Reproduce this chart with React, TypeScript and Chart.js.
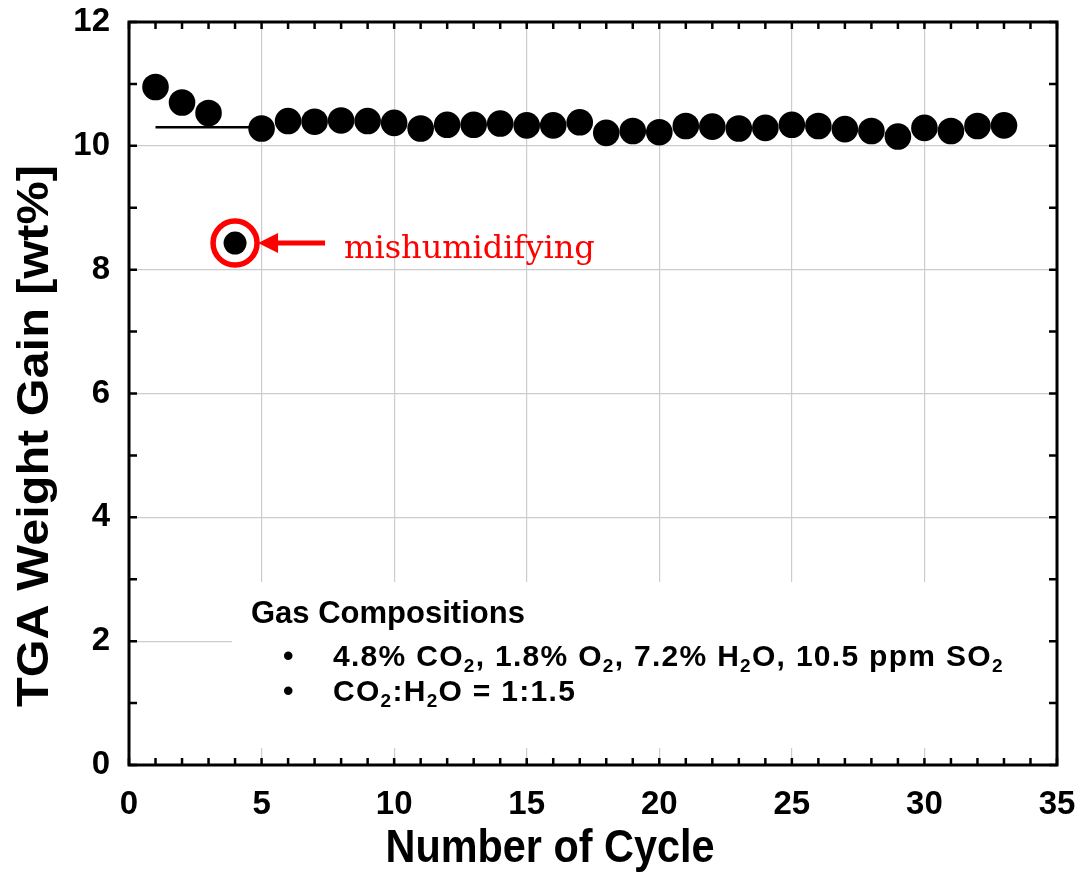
import React, { useEffect, useRef } from "react";
import { Chart, registerables } from "chart.js";

Chart.register(...registerables);

// ---- data ----
const cycles = [
  1, 2, 3, 4, 5, 6, 7, 8, 9, 10, 11, 12, 13, 14, 15, 16, 17, 18, 19, 20, 21,
  22, 23, 24, 25, 26, 27, 28, 29, 30, 31, 32, 33,
];
const weightGain = [
  10.95, 10.7, 10.53, 8.43, 10.28, 10.4, 10.39, 10.41, 10.4, 10.37, 10.28,
  10.34, 10.34, 10.36, 10.33, 10.33, 10.38, 10.21, 10.24, 10.22, 10.32, 10.31,
  10.28, 10.29, 10.34, 10.32, 10.27, 10.24, 10.15, 10.29, 10.24, 10.32, 10.33,
];
const refLineX = [1, 5];
const refLineY = [10.3, 10.3];
const outlierCycle = 4;
const outlierLabel = "mishumidifying";

const xTitle = "Number of Cycle";
const yTitle = "TGA Weight Gain [wt%]";
const legendTitle = "Gas Compositions";
// [text, isSubscript]
const legendLine1: [string, boolean][] = [
  ["4.8% CO", false], ["2", true], [", 1.8% O", false], ["2", true],
  [", 7.2% H", false], ["2", true], ["O, 10.5 ppm SO", false], ["2", true],
];
const legendLine2: [string, boolean][] = [
  ["CO", false], ["2", true], [":H", false], ["2", true], ["O = 1:1.5", false],
];
const legendItems = [legendLine1, legendLine2];

const X_MIN = 0, X_MAX = 35, X_STEP = 5;
const Y_MIN = 0, Y_MAX = 12, Y_STEP = 2;

const TICK_FONT = { family: "'Liberation Sans', Arial, sans-serif", size: 33, weight: "bold" as const };

const decor = {
  id: "decor",
  beforeDatasetsDraw(chart: any) {
    const ctx = chart.ctx;
    const a = chart.chartArea;
    ctx.save();
    ctx.fillStyle = "#ffffff";
    ctx.fillRect(232, 582, a.right - 232, 748 - 582);
    ctx.restore();
  },
  afterDatasetsDraw(chart: any) {
    const ctx = chart.ctx;
    const xs = chart.scales.x, ys = chart.scales.y;
    const idx = cycles.indexOf(outlierCycle);
    const px = xs.getPixelForValue(cycles[idx]);
    const py = ys.getPixelForValue(weightGain[idx]);
    ctx.save();
    ctx.strokeStyle = "#ff0000";
    ctx.fillStyle = "#ff0000";
    ctx.lineWidth = 5.5;
    ctx.beginPath();
    ctx.arc(px, py, 22, 0, Math.PI * 2);
    ctx.stroke();
    // arrow
    ctx.lineWidth = 5;
    ctx.beginPath();
    ctx.moveTo(px + 40, py);
    ctx.lineTo(px + 90, py);
    ctx.stroke();
    ctx.beginPath();
    ctx.moveTo(px + 23, py);
    ctx.lineTo(px + 43, py - 10);
    ctx.lineTo(px + 43, py + 10);
    ctx.closePath();
    ctx.fill();
    ctx.font = "32px 'DejaVu Serif', serif";
    ctx.textBaseline = "alphabetic";
    ctx.textAlign = "left";
    ctx.fillText(outlierLabel, px + 109, py + 15);
    ctx.restore();
  },
  afterDraw(chart: any) {
    const ctx = chart.ctx;
    const a = chart.chartArea;
    const xs = chart.scales.x, ys = chart.scales.y;
    ctx.save();
    // ticks
    ctx.strokeStyle = "#000";
    ctx.lineWidth = 2.5;
    ctx.beginPath();
    for (let v = X_MIN; v <= X_MAX; v++) {
      const x = xs.getPixelForValue(v);
      ctx.moveTo(x, a.bottom);
      ctx.lineTo(x, a.bottom - 7);
      ctx.moveTo(x, a.top);
      ctx.lineTo(x, a.top + 7);
    }
    for (let v = Y_MIN; v <= Y_MAX; v++) {
      const y = ys.getPixelForValue(v);
      ctx.moveTo(a.left, y);
      ctx.lineTo(a.left + 8, y);
      ctx.moveTo(a.right, y);
      ctx.lineTo(a.right - 8, y);
    }
    ctx.stroke();
    // frame
    ctx.lineWidth = 3;
    ctx.strokeRect(a.left, a.top, a.right - a.left, a.bottom - a.top);

    // titles
    ctx.fillStyle = "#000";
    ctx.textAlign = "center";
    ctx.textBaseline = "alphabetic";
    ctx.save();
    ctx.translate(550, 862);
    ctx.scale(0.9, 1);
    ctx.font = "bold 46px 'Liberation Sans', Arial, sans-serif";
    ctx.fillText(xTitle, 0, 0);
    ctx.restore();
    ctx.save();
    ctx.translate(48, 436);
    ctx.rotate(-Math.PI / 2);
    ctx.scale(1.08, 1);
    ctx.font = "bold 45px 'Liberation Sans', Arial, sans-serif";
    ctx.fillText(yTitle, 0, 0);
    ctx.restore();

    // legend text
    ctx.textAlign = "left";
    ctx.font = "bold 31px 'Liberation Sans', Arial, sans-serif";
    ctx.fillText(legendTitle, 251, 623);
    const baselines = [666, 701];
    legendItems.forEach((parts, i) => {
      const by = baselines[i];
      ctx.font = "bold 30px 'Liberation Sans', Arial, sans-serif";
      (ctx as any).letterSpacing = "0px";
      ctx.fillText("\u2022", 283, by);
      let x = 333;
      (ctx as any).letterSpacing = "1.3px";
      parts.forEach(([t, sub]) => {
        if (sub) {
          ctx.font = "bold 19px 'Liberation Sans', Arial, sans-serif";
          ctx.fillText(t, x, by + 6);
        } else {
          ctx.font = "bold 30px 'Liberation Sans', Arial, sans-serif";
          ctx.fillText(t, x, by);
        }
        x += ctx.measureText(t).width;
      });
      (ctx as any).letterSpacing = "0px";
    });
    ctx.restore();
  },
};

const zeroPad = (s: any) => {
  s.paddingTop = 0;
  s.paddingBottom = 0;
  s.paddingLeft = 0;
  s.paddingRight = 0;
};

export default function App() {
  const ref = useRef<HTMLCanvasElement>(null);
  useEffect(() => {
    document.body.style.margin = "0";
    const canvas = ref.current!;
    const gridColor = (c: any) => {
      const v = c.tick ? c.tick.value : 0;
      return v === X_MIN || v === X_MAX || v === Y_MAX ? "rgba(0,0,0,0)" : "#cccccc";
    };
    const chart = new Chart(canvas, {
      type: "scatter",
      data: {
        datasets: [
          {
            type: "line",
            data: refLineX.map((x, i) => ({ x, y: refLineY[i] })),
            borderColor: "#000",
            borderWidth: 2.5,
            pointRadius: 0,
            order: 2,
          } as any,
          {
            data: cycles.map((x, i) => ({ x, y: weightGain[i] })),
            backgroundColor: "#000",
            borderWidth: 0,
            pointRadius: cycles.map((c) => (c === outlierCycle ? 11.5 : 13.3)),
            pointHoverRadius: 13.3,
            order: 1,
          },
        ],
      },
      options: {
        responsive: false,
        animation: false,
        devicePixelRatio: 1,
        layout: { padding: { top: 22, right: 23, left: 0, bottom: 0 } },
        plugins: { legend: { display: false }, tooltip: { enabled: false } },
        scales: {
          x: {
            type: "linear",
            min: X_MIN,
            max: X_MAX,
            ticks: { stepSize: X_STEP, color: "#000", font: TICK_FONT, padding: 20 },
            grid: { color: gridColor, lineWidth: 1.2, drawTicks: false },
            border: { display: false },
            afterFit: (s: any) => { s.height = 118; zeroPad(s); },
          },
          y: {
            type: "linear",
            min: Y_MIN,
            max: Y_MAX,
            ticks: { stepSize: Y_STEP, color: "#000", font: TICK_FONT, padding: 19 },
            grid: { color: gridColor, lineWidth: 1.2, drawTicks: false },
            border: { display: false },
            afterFit: (s: any) => { s.width = 129; zeroPad(s); },
          },
        },
      },
      plugins: [decor],
    });
    return () => chart.destroy();
  }, []);
  return (
    <div style={{ width: 1080, height: 883 }}>
      <canvas ref={ref} width={1080} height={883} style={{ display: "block" }} />
    </div>
  );
}
